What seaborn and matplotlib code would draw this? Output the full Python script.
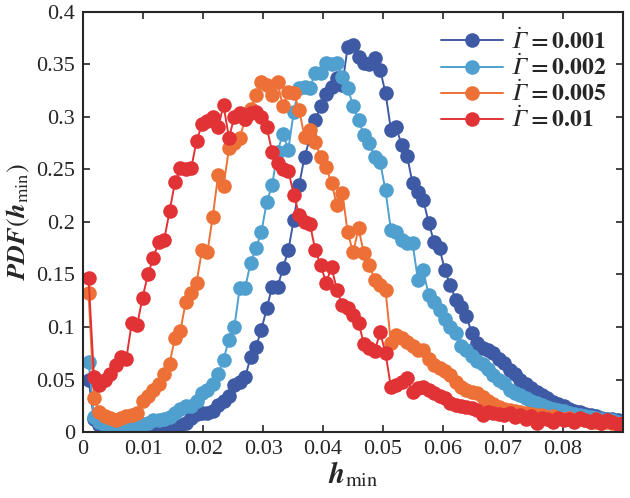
import numpy as np
import pandas as pd
import seaborn as sns
import matplotlib
matplotlib.use("Agg")
import matplotlib.pyplot as plt

# bin centres of h_min (100 bins on [0, 0.09])
h_min = np.round(np.arange(1, 101) * 0.0009, 5)

pdf_0001 = [0.050, 0.012, 0.007, 0.005, 0.003, 0.002, 0.002, 0.001, 0.002, 0.001,
            0.002, 0.001, 0.002, 0.003, 0.002, 0.004, 0.005, 0.007, 0.009, 0.013,
            0.017, 0.018, 0.018, 0.020, 0.026, 0.030, 0.034, 0.045, 0.048, 0.052,
            0.071, 0.081, 0.097, 0.118, 0.138, 0.138, 0.156, 0.173, 0.202, 0.235,
            0.262, 0.280, 0.297, 0.310, 0.322, 0.329, 0.337, 0.330, 0.367, 0.369,
            0.357, 0.351, 0.350, 0.356, 0.345, 0.323, 0.288, 0.290, 0.273, 0.263,
            0.237, 0.229, 0.221, 0.199, 0.181, 0.175, 0.154, 0.140, 0.126, 0.119,
            0.110, 0.094, 0.085, 0.080, 0.078, 0.075, 0.070, 0.066, 0.059, 0.055,
            0.050, 0.046, 0.042, 0.038, 0.035, 0.032, 0.029, 0.027, 0.025, 0.022,
            0.020, 0.019, 0.017, 0.016, 0.015, 0.013, 0.012, 0.012, 0.011, 0.010]

pdf_0002 = [0.067, 0.014, 0.010, 0.007, 0.006, 0.005, 0.004, 0.005, 0.006, 0.007,
            0.008, 0.009, 0.011, 0.011, 0.012, 0.014, 0.018, 0.022, 0.025, 0.025,
            0.030, 0.037, 0.040, 0.046, 0.055, 0.069, 0.088, 0.100, 0.137, 0.137,
            0.161, 0.175, 0.190, 0.219, 0.235, 0.267, 0.284, 0.269, 0.305, 0.328,
            0.329, 0.328, 0.342, 0.342, 0.351, 0.350, 0.351, 0.338, 0.328, 0.310,
            0.297, 0.283, 0.275, 0.262, 0.257, 0.230, 0.192, 0.190, 0.183, 0.180,
            0.180, 0.145, 0.154, 0.130, 0.124, 0.116, 0.108, 0.100, 0.094, 0.082,
            0.078, 0.072, 0.068, 0.065, 0.060, 0.054, 0.050, 0.047, 0.040, 0.037,
            0.035, 0.032, 0.030, 0.028, 0.026, 0.024, 0.022, 0.021, 0.020, 0.018,
            0.017, 0.016, 0.015, 0.014, 0.013, 0.012, 0.011, 0.011, 0.010, 0.009]

pdf_0005 = [0.132, 0.032, 0.019, 0.015, 0.013, 0.011, 0.013, 0.015, 0.016, 0.018,
            0.030, 0.034, 0.040, 0.046, 0.055, 0.065, 0.090, 0.096, 0.124, 0.132,
            0.142, 0.173, 0.171, 0.205, 0.245, 0.234, 0.270, 0.275, 0.280, 0.298,
            0.308, 0.321, 0.333, 0.330, 0.321, 0.333, 0.310, 0.324, 0.323, 0.307,
            0.281, 0.288, 0.276, 0.262, 0.252, 0.237, 0.216, 0.228, 0.190, 0.171,
            0.194, 0.170, 0.159, 0.145, 0.140, 0.135, 0.085, 0.092, 0.090, 0.086,
            0.082, 0.078, 0.078, 0.070, 0.064, 0.061, 0.058, 0.054, 0.048, 0.043,
            0.040, 0.038, 0.037, 0.033, 0.030, 0.027, 0.024, 0.022, 0.021, 0.020,
            0.019, 0.018, 0.017, 0.016, 0.016, 0.014, 0.015, 0.013, 0.012, 0.013,
            0.011, 0.012, 0.011, 0.010, 0.010, 0.009, 0.010, 0.009, 0.008, 0.008]

pdf_001 = [0.147, 0.052, 0.045, 0.050, 0.055, 0.064, 0.071, 0.070, 0.104, 0.102,
           0.128, 0.150, 0.166, 0.181, 0.183, 0.210, 0.238, 0.251, 0.250, 0.251,
           0.277, 0.293, 0.296, 0.300, 0.290, 0.311, 0.280, 0.300, 0.304, 0.298,
           0.304, 0.305, 0.300, 0.290, 0.267, 0.256, 0.250, 0.249, 0.226, 0.207,
           0.200, 0.198, 0.173, 0.159, 0.142, 0.157, 0.135, 0.121, 0.118, 0.111,
           0.104, 0.084, 0.080, 0.077, 0.095, 0.075, 0.043, 0.045, 0.048, 0.051,
           0.038, 0.042, 0.043, 0.040, 0.037, 0.034, 0.032, 0.028, 0.026, 0.025,
           0.024, 0.023, 0.021, 0.016, 0.019, 0.018, 0.017, 0.016, 0.018, 0.014,
           0.016, 0.012, 0.015, 0.009, 0.013, 0.012, 0.010, 0.013, 0.011, 0.012,
           0.010, 0.013, 0.011, 0.010, 0.012, 0.009, 0.011, 0.010, 0.008, 0.009]

# italic capital gamma with a dot, as in the original legend
labels = [r'$\dot{𝛤}\,\mathbf{=0.001}$',
          r'$\dot{𝛤}\,\mathbf{=0.002}$',
          r'$\dot{𝛤}\,\mathbf{=0.005}$',
          r'$\dot{𝛤}\,\mathbf{=0.01}$']
colors = ['#3E5AA4', '#4F9FCF', '#ED7136', '#E13335']

sns.set_style("ticks")
plt.rcParams['font.family'] = ['Liberation Serif', 'DejaVu Serif']
plt.rcParams['mathtext.fontset'] = 'stix'

df = pd.DataFrame({
    'h': np.concatenate([h_min] * 4),
    'pdf': pdf_0001 + pdf_0002 + pdf_0005 + pdf_001,
    'rate': sum([[lab] * len(h_min) for lab in labels], []),
})

fig = plt.figure(figsize=(6.3, 4.98), dpi=100)
ax = fig.add_axes([0.132, 0.1325, 0.857, 0.8435])

ax = sns.lineplot(data=df, x='h', y='pdf', hue='rate', hue_order=labels,
                  palette=colors, marker='o', markersize=10.5, markeredgewidth=0,
                  linewidth=1.4, ax=ax, clip_on=True)

ax.set_xlim(0, 0.09)
ax.set_ylim(0, 0.4)
ax.set_xticks([0, 0.01, 0.02, 0.03, 0.04, 0.05, 0.06, 0.07, 0.08])
ax.set_xticklabels(['0', '0.01', '0.02', '0.03', '0.04', '0.05', '0.06', '0.07', '0.08'])
ax.set_yticks([0, 0.05, 0.1, 0.15, 0.2, 0.25, 0.3, 0.35, 0.4])
ax.set_yticklabels(['0', '0.05', '0.1', '0.15', '0.2', '0.25', '0.3', '0.35', '0.4'])
ax.tick_params(direction='in', length=5, width=1.2, labelsize=16,
               top=True, right=True, pad=6)
for s in ax.spines.values():
    s.set_linewidth(1.5)
    s.set_visible(True)

ax.set_xlabel(r'$\mathbfit{h}_{\rm min}$', fontsize=21, labelpad=0)
ax.set_ylabel(r'$\mathbfit{PDF}(\mathbfit{h}_{\rm min})$', fontsize=19, labelpad=3)

ax.legend(loc='upper right', frameon=False, fontsize=17, handlelength=2.6,
          labelspacing=0.05, borderaxespad=0.3, handletextpad=0.3)

fig.savefig('out.png', dpi=100)
